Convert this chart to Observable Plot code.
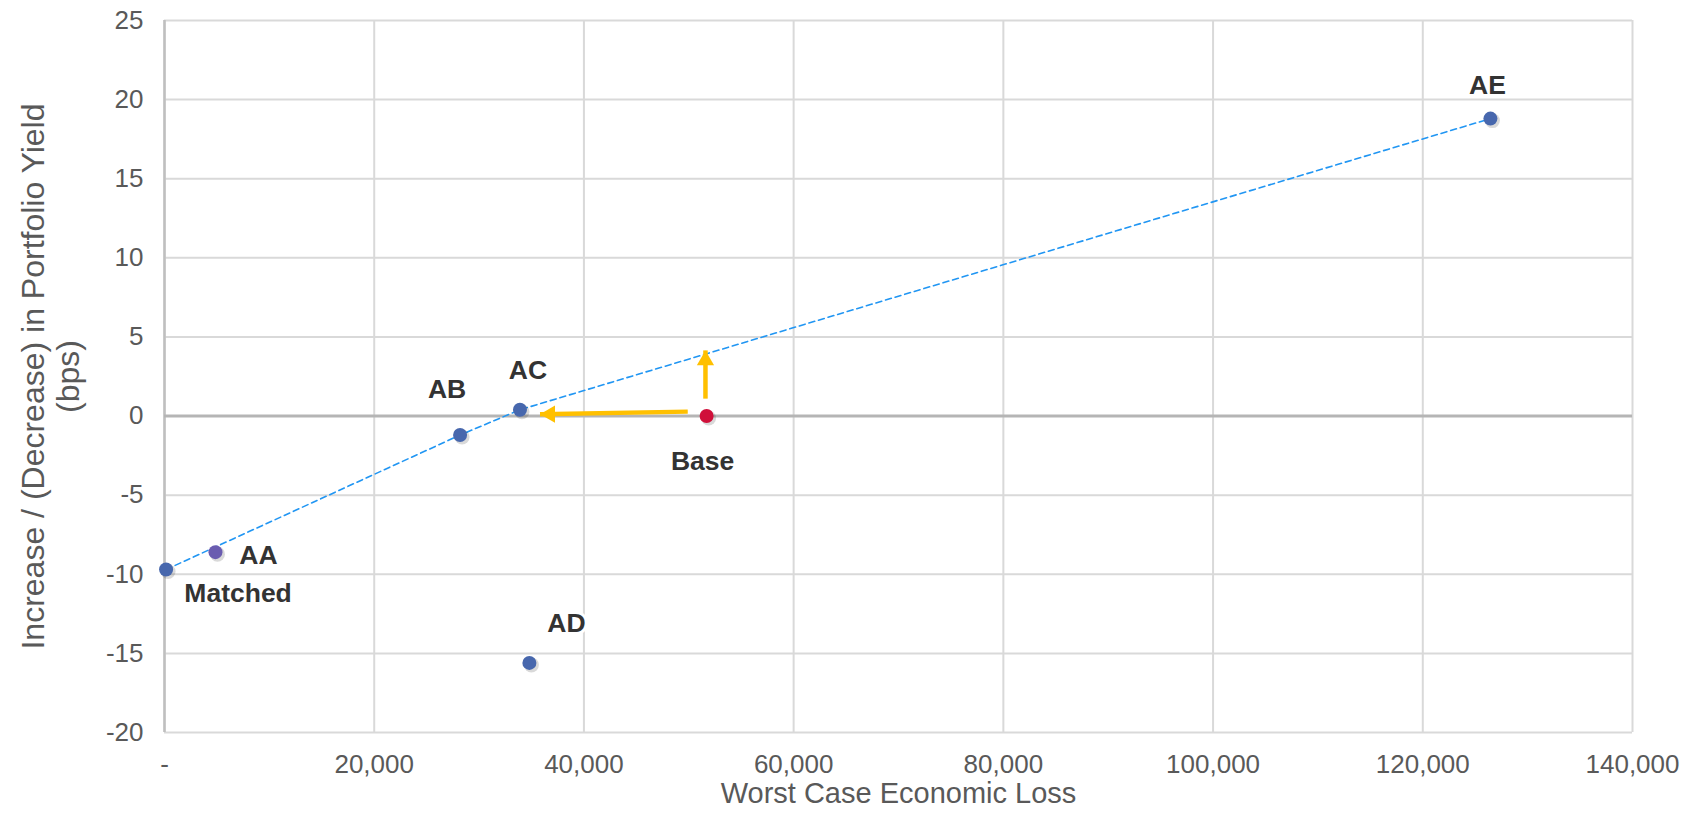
<!DOCTYPE html>
<html>
<head>
<meta charset="utf-8">
<script src="https://cdn.jsdelivr.net/npm/d3@7"></script>
<script src="https://cdn.jsdelivr.net/npm/@observablehq/plot@0.6"></script>
<style>
  html, body { margin: 0; padding: 0; background: #fff; }
</style>
</head>
<body>
<div id="chart"></div>
<script>
// ---- Data ----
const seriesNames = ["Matched", "AA", "AB", "AC", "AD", "AE"];
const worstCaseLoss = [150, 4860, 28190, 33900, 34800, 126450];
const yieldChange = [-9.7, -8.6, -1.2, 0.4, -15.6, 18.8];

const baseName = "Base";
const baseLoss = 51700;
const baseYield = 0;

const frontierNames = ["Matched", "AB", "AC", "AE"];

const arrowStartLoss = [49900, 51590];
const arrowStartYield = [0.28, 1.1];
const arrowEndLoss = [35810, 51590];
const arrowEndYield = [0.12, 4.15];

const xTicks = [0, 20000, 40000, 60000, 80000, 100000, 120000, 140000];
const yTicks = [-20, -15, -10, -5, 0, 5, 10, 15, 20, 25];

const xTitle = "Worst Case Economic Loss";
const yTitle = "Increase / (Decrease) in Portfolio Yield\n(bps)";

// ---- Layout / style (not data) ----
const labelOffsets = {
  Matched: {dx: 72, dy: 24},
  AA: {dx: 43, dy: 3},
  AB: {dx: -13, dy: -46},
  AC: {dx: 8, dy: -39},
  AD: {dx: 37, dy: -39},
  AE: {dx: -3, dy: -33},
  Base: {dx: -4, dy: 45}
};

const pts = seriesNames.map((n, i) => ({name: n, x: worstCaseLoss[i], y: yieldChange[i]}));
const base = {name: baseName, x: baseLoss, y: baseYield};
const frontier = frontierNames.map(n => pts.find(p => p.name === n));
const arrows = arrowStartLoss.map((v, i) => ({x1: v, y1: arrowStartYield[i], x2: arrowEndLoss[i], y2: arrowEndYield[i]}));

const grey = "#595959";
const gold = "#FFC000";
const xFmt = d => d === 0 ? "-" : d3.format(",")(d);
const yFmt = d => String(d);

const labelMarks = [...pts, base].map(p => Plot.text([p], {
  x: "x", y: "y", text: "name",
  dx: labelOffsets[p.name].dx, dy: labelOffsets[p.name].dy,
  fontWeight: "bold", fontSize: 26.5, fill: "#333333",
  stroke: "white", strokeWidth: 6, paintOrder: "stroke"
}));

const chart = Plot.plot({
  width: 1687,
  height: 818,
  marginLeft: 164,
  marginRight: 55,
  marginTop: 20,
  marginBottom: 86,
  style: {fontFamily: "'Liberation Sans', Arial, sans-serif", background: "white"},
  x: {domain: [0, 140000]},
  y: {domain: [-20, 25]},
  marks: [
    Plot.gridX(xTicks, {stroke: "#d9d9d9", strokeOpacity: 1, strokeWidth: 2}),
    Plot.gridY(yTicks, {stroke: "#d9d9d9", strokeOpacity: 1, strokeWidth: 2}),
    Plot.ruleX([0], {stroke: "#bfbfbf", strokeWidth: 2.5}),
    Plot.ruleY([0], {stroke: "#b5b5b5", strokeWidth: 3}),
    Plot.axisX(xTicks, {tickSize: 0, tickPadding: 22, tickFormat: xFmt, fill: grey, fontSize: 26, label: null}),
    Plot.axisY(yTicks, {tickSize: 0, tickPadding: 21, tickFormat: yFmt, fill: grey, fontSize: 26, label: null}),
    Plot.line(frontier, {x: "x", y: "y", stroke: "#2196f3", strokeWidth: 1.6, strokeDasharray: "6,4"}),
    Plot.link(arrows, {x1: "x1", y1: "y1", x2: "x2", y2: "y2", stroke: gold, strokeWidth: 4.5}),
    Plot.dot([arrows[0]], {x: "x2", y: "y2", symbol: "triangle", r: 6.4, fill: gold, stroke: "none", rotate: -90, dx: 10}),
    Plot.dot([arrows[1]], {x: "x2", y: "y2", symbol: "triangle", r: 6.4, fill: gold, stroke: "none", dy: 10}),
    Plot.dot([...pts, base], {x: "x", y: "y", r: 7.5, fill: "#000", fillOpacity: 0.15, stroke: "none", dx: 2, dy: 2}),
    Plot.dot(pts, {x: "x", y: "y", r: 7, fill: d => d.name === "AA" ? "#6a5cb0" : "#4767ad", stroke: "none"}),
    Plot.dot([base], {x: "x", y: "y", r: 7, fill: "#d0103a", stroke: "none"}),
    ...labelMarks,
    Plot.text([xTitle], {frameAnchor: "bottom", dy: 70, fontSize: 29, fill: grey}),
    Plot.text([yTitle], {frameAnchor: "left", textAnchor: "middle", rotate: -90, dx: -114, fontSize: 32, lineHeight: 1.1, fill: grey})
  ]
});
document.getElementById("chart").appendChild(chart);
</script>
</body>
</html>
